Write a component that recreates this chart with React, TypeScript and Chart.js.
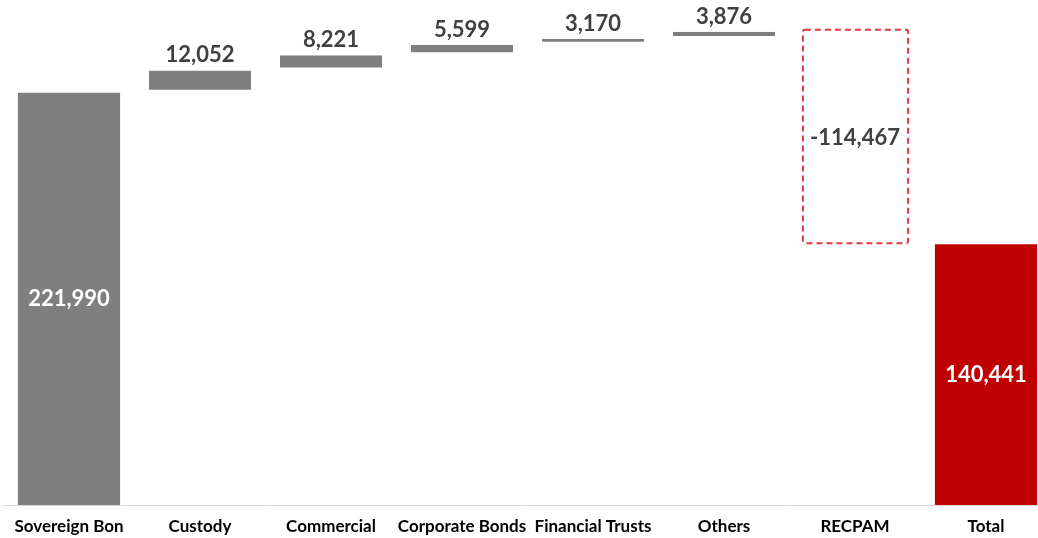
import React, { useEffect, useRef } from "react";
import { Chart, registerables } from "chart.js";

Chart.register(...registerables);

const categories = [
  "Sovereign Bon",
  "Custody",
  "Commercial",
  "Corporate Bonds",
  "Financial Trusts",
  "Others",
  "RECPAM",
  "Total",
];
const values = [221990, 12052, 8221, 5599, 3170, 3876, -114467, 140441];
const valueLabels = ["221,990", "12,052", "8,221", "5,599", "3,170", "3,876", "-114,467", "140,441"];
const kinds = ["start", "up", "up", "up", "up", "up", "down", "total"];

const GRAY = "#7f7f7f";
const RED = "#c00000";
const DASH_RED = "#dc3a40";
const FONT = "Lato, 'Open Sans', sans-serif";

function buildRanges(): [number, number][] {
  const out: [number, number][] = [];
  let cum = 0;
  values.forEach((v, i) => {
    const k = kinds[i];
    if (k === "start" || k === "total") {
      out.push([0, v]);
      cum = v;
    } else {
      const next = cum + v;
      out.push([Math.min(cum, next), Math.max(cum, next)]);
      cum = next;
    }
  });
  return out;
}

const wfPlugin = {
  id: "wfPlugin",
  afterDatasetsDraw(chart: any) {
    const ctx = chart.ctx;
    const meta = chart.getDatasetMeta(0);
    meta.data.forEach((bar: any, i: number) => {
      const p = bar.getProps(["x", "y", "base", "width"], true);
      const top = Math.min(p.y, p.base);
      const bottom = Math.max(p.y, p.base);
      const left = p.x - p.width / 2;
      const kind = kinds[i];
      ctx.save();
      if (kind === "down") {
        ctx.setLineDash([6, 4]);
        ctx.lineWidth = 2;
        ctx.strokeStyle = DASH_RED;
        ctx.beginPath();
        const l = left - 1, r = left + p.width + 2, t = top - 2, b = bottom - 1;
        ctx.moveTo(l + 2, t);
        ctx.lineTo(r - 2, t);
        ctx.quadraticCurveTo(r, t, r, t + 2);
        ctx.lineTo(r, b - 2);
        ctx.quadraticCurveTo(r, b, r - 2, b);
        ctx.lineTo(l + 2, b);
        ctx.quadraticCurveTo(l, b, l, b - 2);
        ctx.lineTo(l, t + 2);
        ctx.quadraticCurveTo(l, t, l + 2, t);
        ctx.stroke();
        ctx.setLineDash([]);
      }
      ctx.font = `bold 22px ${FONT}`;
      ctx.textAlign = "center";
      if (kind === "up") {
        ctx.fillStyle = "#404040";
        ctx.textBaseline = "alphabetic";
        ctx.fillText(valueLabels[i], p.x, top - 8);
      } else {
        ctx.fillStyle = kind === "down" ? "#404040" : "#ffffff";
        ctx.textBaseline = "middle";
        ctx.fillText(valueLabels[i], p.x, (top + bottom) / 2);
      }
      ctx.restore();
    });
  },
};

export default function App() {
  const ref = useRef<HTMLCanvasElement | null>(null);
  useEffect(() => {
    if (!ref.current) return;
    const ranges = buildRanges();
    const chart = new Chart(ref.current, {
      type: "bar",
      data: {
        labels: categories,
        datasets: [
          {
            data: ranges as any,
            backgroundColor: kinds.map((k) => (k === "total" ? RED : k === "down" ? "rgba(0,0,0,0)" : GRAY)),
            borderColor: "#ffffff",
            borderWidth: kinds.map((k) =>
              k === "up" ? { top: 0, left: 0, right: 0, bottom: 3 } : 0
            ) as any,
            borderSkipped: false,
            categoryPercentage: 1,
            barPercentage: 0.78,
          },
        ],
      },
      options: {
        animation: false,
        responsive: false,
        maintainAspectRatio: false,
        layout: { padding: { left: 3.5, right: 0.5, top: 0, bottom: 0 } },
        plugins: { legend: { display: false }, tooltip: { enabled: false } },
        scales: {
          x: {
            grid: { display: false, drawTicks: false },
            border: { display: true, color: "#d9d9d9", width: 1 },
            ticks: {
              color: "#000000",
              font: { family: FONT, size: 17, weight: "bold" },
              padding: 11,
              maxRotation: 0,
              autoSkip: false,
            },
            afterFit: (s: any) => {
              s.height = 33;
            },
          },
          y: {
            display: false,
            min: 0,
            max: 272000,
          },
        },
      },
      plugins: [wfPlugin],
    });
    return () => chart.destroy();
  }, []);
  return (
    <div
      style={{
        position: "fixed",
        left: 0,
        top: 0,
        width: 1038,
        height: 538,
        overflow: "hidden",
        background: "#ffffff",
      }}
    >
      <canvas ref={ref} width={1052} height={538} style={{ display: "block", width: 1052, height: 538 }} />
    </div>
  );
}
